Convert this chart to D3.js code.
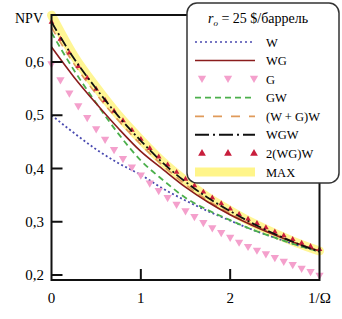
<!DOCTYPE html>
<html>
<head>
<meta charset="utf-8">
<script src="https://cdn.jsdelivr.net/npm/d3@7"></script>
<style>
  body { margin: 0; background: #fff; }
</style>
</head>
<body>
<svg width="342" height="319"></svg>
<script>
// x values for the smooth curves
const xs = [0, 0.25, 0.5, 0.75, 1, 1.25, 1.5, 1.75, 2, 2.25, 2.5, 2.75, 3];
// x values for the marker series
const xm = d3.range(0, 31).map(i => i / 10);

const maxVals   = [0.688, 0.612, 0.553, 0.5, 0.454, 0.412, 0.377, 0.346, 0.321, 0.298, 0.278, 0.26, 0.245];
const wgwVals   = [0.675, 0.607, 0.55, 0.498, 0.452, 0.41, 0.375, 0.345, 0.32, 0.297, 0.277, 0.259, 0.244];
const wgVals    = [0.628, 0.572, 0.522, 0.475, 0.432, 0.398, 0.365, 0.337, 0.313, 0.293, 0.275, 0.259, 0.245];
const gwVals    = [0.655, 0.585, 0.523, 0.465, 0.415, 0.378, 0.345, 0.322, 0.303, 0.285, 0.27, 0.256, 0.244];
const wgPlusW   = [0.665, 0.597, 0.54, 0.49, 0.445, 0.405, 0.37, 0.34, 0.316, 0.295, 0.277, 0.26, 0.245];
const wVals     = [0.5, 0.467, 0.436, 0.41, 0.388, 0.362, 0.34, 0.32, 0.302, 0.285, 0.27, 0.256, 0.244];
const gVals     = [0.595, 0.565, 0.54, 0.516, 0.494, 0.473, 0.453, 0.434, 0.417, 0.401, 0.386,
                   0.371, 0.357, 0.344, 0.331, 0.319, 0.308, 0.297, 0.287, 0.278, 0.269,
                   0.26, 0.252, 0.245, 0.238, 0.231, 0.224, 0.218, 0.211, 0.205, 0.198];
const wg2wVals  = [0.675, 0.643, 0.617, 0.592, 0.57, 0.549, 0.528, 0.508, 0.49, 0.472, 0.455,
                   0.438, 0.422, 0.407, 0.393, 0.38, 0.368, 0.356, 0.345, 0.334, 0.324,
                   0.314, 0.305, 0.297, 0.289, 0.281, 0.274, 0.267, 0.26, 0.254, 0.248];

const yTicks = [0.2, 0.3, 0.4, 0.5, 0.6];
const xTicks = [0, 1, 2, 3];
const xTickLabels = ["0", "1", "2", "1/\u03A9"];
const legendLabels = ["W", "WG", "G", "GW", "(W + G)W", "WGW", "2(WG)W", "MAX"];

const svg = d3.select("svg").attr("font-family", "'Liberation Serif', 'Times New Roman', serif");
const pLeft = 51.5, pRight = 319.5, pTop = 15, pBottom = 280;

const x = d3.scaleLinear().domain([0, 3]).range([pLeft, pRight]);
const y = d3.scaleLinear().domain([0.2, 0.6]).range([275, 62]);

const fmt = v => d3.format(".1f")(v).replace(".", ",");
const line = d3.line().x(d => x(d[0])).y(d => y(d[1])).curve(d3.curveMonotoneX);
const pts = vals => vals.map((v, i) => [xs[i], v]);

// curves
svg.append("path").attr("d", line(pts(maxVals)))
  .attr("fill", "none").attr("stroke", "#fff58a").attr("stroke-width", 9)
  .attr("stroke-linecap", "round").attr("opacity", 0.9);

svg.append("path").attr("d", line(pts(wVals)))
  .attr("fill", "none").attr("stroke", "#4a4ab0").attr("stroke-width", 1.8)
  .attr("stroke-dasharray", "2,2.5");

svg.selectAll(".g").data(gVals).join("path")
  .attr("d", d3.symbol(d3.symbolTriangle, 30))
  .attr("fill", "#f4a0cc")
  .attr("transform", (d, i) => `translate(${x(xm[i])},${y(d) - 1}) rotate(180)`);

svg.append("path").attr("d", line(pts(gwVals)))
  .attr("fill", "none").attr("stroke", "#4cb04c").attr("stroke-width", 1.8)
  .attr("stroke-dasharray", "6,4");

svg.append("path").attr("d", line(pts(wgPlusW)))
  .attr("fill", "none").attr("stroke", "#e09a5a").attr("stroke-width", 1.6)
  .attr("stroke-dasharray", "8,6");

svg.append("path").attr("d", line(pts(wgVals)))
  .attr("fill", "none").attr("stroke", "#8a1c1c").attr("stroke-width", 1.6);

svg.selectAll(".wg2w").data(wg2wVals).join("path")
  .attr("transform", (d, i) => `translate(${x(xm[i])},${y(d)})`)
  .attr("d", d3.symbol(d3.symbolTriangle, 14))
  .attr("fill", "#c81e3c");

svg.append("path").attr("d", line(pts(wgwVals)))
  .attr("fill", "none").attr("stroke", "#111").attr("stroke-width", 1.8)
  .attr("stroke-dasharray", "10,3,2,3");

// frame
svg.append("rect").attr("x", pLeft).attr("y", pTop)
  .attr("width", pRight - pLeft).attr("height", pBottom - pTop)
  .attr("fill", "none").attr("stroke", "#111").attr("stroke-width", 2);

// ticks
svg.selectAll(".yt").data(yTicks).join("line")
  .attr("x1", pLeft).attr("x2", pLeft + 11)
  .attr("y1", d => y(d)).attr("y2", d => y(d))
  .attr("stroke", "#111").attr("stroke-width", 2);
svg.selectAll(".ytl").data(yTicks).join("text")
  .attr("x", 44).attr("y", d => y(d) + 5)
  .attr("text-anchor", "end").attr("font-size", 15).text(fmt);

svg.selectAll(".xt").data(xTicks.slice(1, 3)).join("line")
  .attr("x1", d => x(d)).attr("x2", d => x(d))
  .attr("y1", pBottom).attr("y2", pBottom - 11)
  .attr("stroke", "#111").attr("stroke-width", 2);
svg.selectAll(".xtl").data(xTicks).join("text")
  .attr("x", d => x(d)).attr("y", 303)
  .attr("text-anchor", "middle").attr("font-size", 15)
  .text((d, i) => xTickLabels[i]);

svg.append("text").attr("x", 15).attr("y", 23).attr("font-size", 14).text("NPV");

// legend
const lg = svg.append("g");
lg.append("rect").attr("x", 187).attr("y", 3).attr("width", 152).attr("height", 180)
  .attr("rx", 10).attr("fill", "#fff").attr("stroke", "#333").attr("stroke-width", 1.5);

const title = lg.append("text").attr("x", 208).attr("y", 23).attr("font-size", 14);
title.append("tspan").attr("font-style", "italic").text("r");
title.append("tspan").attr("font-size", 9).attr("dy", 3).attr("font-style", "italic").text("o");
title.append("tspan").attr("dy", -3).text(" = 25 $/баррель");

const ly = d3.scalePoint().domain(legendLabels).range([42, 172]);
const lx0 = 195, lx1 = 255;

lg.selectAll(".ll").data(legendLabels).join("text")
  .attr("x", 266).attr("y", d => ly(d) + 4.5).attr("font-size", 12.5).text(d => d);

const seg = (lab, color, w, dash) => lg.append("line")
  .attr("x1", lx0).attr("x2", lx1).attr("y1", ly(lab)).attr("y2", ly(lab))
  .attr("stroke", color).attr("stroke-width", w).attr("stroke-dasharray", dash);

seg("W", "#4a4ab0", 1.6, "2,3");
seg("WG", "#8a1c1c", 1.6, null);
seg("GW", "#4cb04c", 1.8, "6,4");
seg("(W + G)W", "#e09a5a", 1.8, "9,9");
seg("WGW", "#111", 2, "14,4,2,4");
lg.append("rect").attr("x", lx0).attr("y", ly("MAX") - 4.5).attr("width", lx1 - lx0).attr("height", 9)
  .attr("fill", "#fff58a");

[0, 1, 2].forEach(k => {
  lg.append("path").attr("d", d3.symbol(d3.symbolTriangle, 30))
    .attr("transform", `translate(${202 + 26 * k},${ly("G") - 1}) rotate(180)`)
    .attr("fill", "#f4a0cc");
  lg.append("path").attr("d", d3.symbol(d3.symbolTriangle, 26))
    .attr("transform", `translate(${202 + 26 * k},${ly("2(WG)W")})`)
    .attr("fill", "#c81e3c");
});
</script>
</body>
</html>
